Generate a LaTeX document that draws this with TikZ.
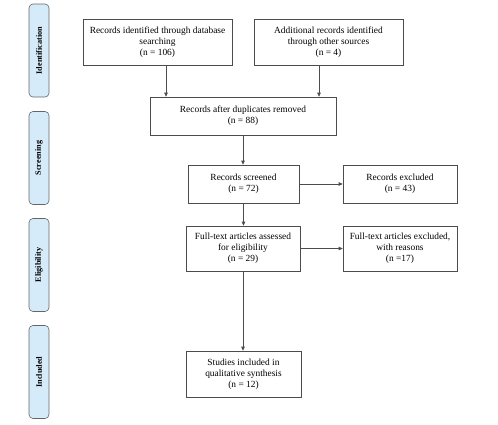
\documentclass[tikz,border=0pt]{standalone}
\usepackage{fontspec}
\setmainfont{Liberation Serif}
\usetikzlibrary{arrows.meta}
\definecolor{phase}{HTML}{D6EBFA}

\begin{document}
\begin{tikzpicture}[x=1pt, y=-1pt,
  box/.style={draw=black!70, line width=0.6pt, align=center, inner sep=2pt,
    font=\fontsize{9.4}{11}\selectfont},
  phasebox/.style={draw=black!60, line width=0.6pt, fill=phase, rounded corners=4pt,
    rotate=90, minimum width=93pt, minimum height=20pt, inner sep=0pt,
    font=\fontsize{8.2}{10}\selectfont\bfseries},
  flow/.style={-{Triangle[length=4pt, width=3.5pt]}, draw=black!70, line width=0.6pt}]
\useasboundingbox (0,0) rectangle (498,424);

\node[phasebox] (id) at (39, 50.5) {Identification};
\node[phasebox] (sc) at (39, 158) {Screening};
\node[phasebox] (el) at (39, 265) {Eligibility};
\node[phasebox] (in) at (39, 372) {Included};

\node[box, minimum width=149pt, minimum height=46pt] (1) at (157.5, 42) {Records identified through database\\searching\\(n = 106)};
\node[box, minimum width=149pt, minimum height=46pt] (2) at (328.5, 42) {Additional records identified\\through other sources\\(n = 4)};
\node[box, minimum width=186pt, minimum height=38pt] (3) at (243, 116) {Records after duplicates removed\\(n = 88)};
\node[box, minimum width=111pt, minimum height=38pt] (4) at (243.5, 184) {Records screened\\(n = 72)};
\node[box, minimum width=114pt, minimum height=38pt] (5) at (400, 184) {Records excluded\\(n = 43)};
\node[box, minimum width=114pt, minimum height=45pt] (6) at (243, 248.5) {Full-text articles assessed\\for eligibility\\(n = 29)};
\node[box, minimum width=114pt, minimum height=45pt] (7) at (400, 248.5) {Full-text articles excluded,\\with reasons\\(n =17)};
\node[box, minimum width=115pt, minimum height=46pt] (8) at (243.5, 374) {Studies included in\\qualitative synthesis\\(n = 12)};

\draw[flow] ([xshift=8.5pt]1.south) -- ([xshift=8.5pt]1.south |- 3.north);
\draw[flow] ([xshift=-9.5pt]2.south) -- ([xshift=-9.5pt]2.south |- 3.north);
\draw[flow] (3.south) -- (3.south |- 4.north);
\draw[flow] (4) -- (5);
\draw[flow] (4.south) -- (4.south |- 6.north);
\draw[flow] (6) -- (7);
\draw[flow] (6.south) -- (6.south |- 8.north);
\end{tikzpicture}
\end{document}
